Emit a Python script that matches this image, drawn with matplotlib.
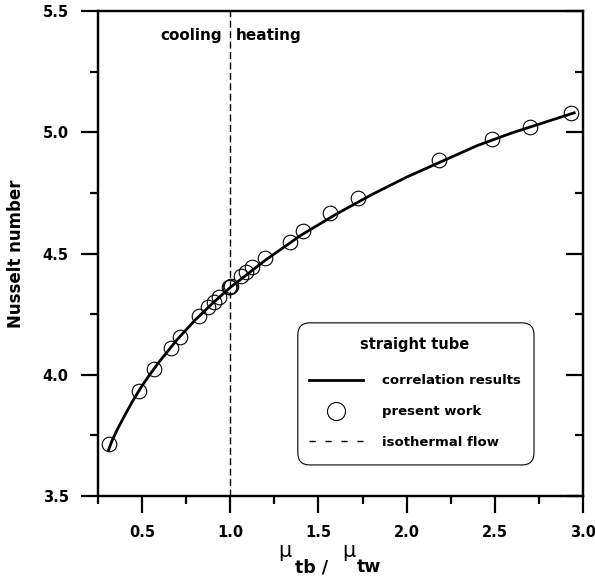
import numpy as np
import matplotlib
matplotlib.use('Agg')
import matplotlib.pyplot as plt
from matplotlib.lines import Line2D
from matplotlib.patches import FancyBboxPatch

plt.rcParams['font.family'] = ['DejaVu Sans']
plt.rcParams['font.weight'] = 'bold'

# correlation curve
curve_x = [0.31, 0.33, 0.36, 0.4, 0.45, 0.5, 0.55, 0.6, 0.7, 0.8, 0.9, 1.0,
           1.2, 1.4, 1.6, 1.8, 2.0, 2.2, 2.4, 2.6, 2.8, 2.95]
curve_nu = [3.69, 3.729, 3.775, 3.83, 3.896, 3.955, 4.007, 4.056, 4.146,
            4.225, 4.295, 4.36, 4.473, 4.575, 4.662, 4.742, 4.815, 4.88,
            4.945, 4.998, 5.045, 5.08]

# present work points
work_x = [0.31, 0.484, 0.569, 0.665, 0.715, 0.824, 0.875, 0.909, 0.937,
          0.995, 1.0, 1.003, 1.06, 1.092, 1.126, 1.196, 1.338, 1.413,
          1.564, 1.725, 2.182, 2.484, 2.702, 2.934]
work_nu = [3.714, 3.934, 4.024, 4.112, 4.154, 4.242, 4.281, 4.301, 4.322,
           4.36, 4.363, 4.366, 4.407, 4.425, 4.446, 4.48, 4.549, 4.594,
           4.666, 4.729, 4.884, 4.971, 5.023, 5.078]

x_ticks = [0.5, 1.0, 1.5, 2.0, 2.5, 3.0]
y_ticks = [3.5, 4.0, 4.5, 5.0, 5.5]

fig = plt.figure(figsize=(5.95, 5.76), dpi=100)
ax = fig.add_axes([98 / 595, 1 - 496 / 576, 485 / 595, 485 / 576])

ax.plot(curve_x, curve_nu, color='black', lw=2.0)
ax.plot(work_x, work_nu, 'o', mfc='none', mec='black', ms=10.5, mew=0.8)
ax.axvline(1.0, color='black', lw=1.0, dashes=(5, 2.5))

ax.set_xlim(0.25, 3.0)
ax.set_ylim(3.5, 5.5)
ax.set_xticks(x_ticks)
ax.set_yticks(y_ticks)
ax.set_xticks(np.arange(0.25, 3.01, 0.25), minor=True)
ax.set_yticks(np.arange(3.5, 5.51, 0.25), minor=True)
ax.set_xticklabels(['%.1f' % v for v in x_ticks])
ax.set_yticklabels(['%.1f' % v for v in y_ticks])

for s in ax.spines.values():
    s.set_linewidth(1.6)
ax.tick_params(which='major', direction='out', length=12, width=1.6,
               labelsize=10.5, top=False, right=False, pad=9)
ax.tick_params(which='minor', direction='out', length=6, width=1.6,
               top=False, right=False)
for lab in ax.get_xticklabels() + ax.get_yticklabels():
    lab.set_fontweight('bold')

# inward ticks on the right side
ax2 = ax.twinx()
ax2.set_ylim(ax.get_ylim())
ax2.set_yticks(y_ticks)
ax2.set_yticks(np.arange(3.5, 5.51, 0.25), minor=True)
ax2.tick_params(which='major', direction='in', length=12, width=1.6,
                labelright=False)
ax2.tick_params(which='minor', direction='in', length=6, width=1.6)
for s in ax2.spines.values():
    s.set_linewidth(1.6)

ax.set_ylabel('Nusselt number', fontsize=12, fontweight='bold', labelpad=13)

# x label: mu_tb / mu_tw
fig.text(278 / 595, 1 - 557 / 576, 'μ', fontsize=15, fontweight='normal',
         ha='left', va='baseline')
fig.text(295 / 595, 1 - 572 / 576, 'tb /', fontsize=12.5, fontweight='bold',
         ha='left', va='baseline')
fig.text(342 / 595, 1 - 557 / 576, 'μ', fontsize=15, fontweight='normal',
         ha='left', va='baseline')
fig.text(357 / 595, 1 - 572 / 576, 'tw', fontsize=12.5, fontweight='bold',
         ha='left', va='baseline')

ax.text(0.955, 5.397, 'cooling', fontsize=11, fontweight='bold',
        ha='right', va='center')
ax.text(1.03, 5.397, 'heating', fontsize=11, fontweight='bold',
        ha='left', va='center')

# legend box
box = FancyBboxPatch((0.412, 0.064), 0.487, 0.293, transform=ax.transAxes,
                     boxstyle='round,pad=0,rounding_size=0.025',
                     fc='white', ec='black', lw=0.8, zorder=5)
ax.add_patch(box)
handles = [Line2D([], [], color='black', lw=2.0),
           Line2D([], [], ls='none', marker='o', mfc='none', mec='black',
                  ms=13, mew=0.8),
           Line2D([], [], color='black', lw=1.0, dashes=(4.5, 7))]
labels = ['correlation results', 'present work', 'isothermal flow']
leg = ax.legend(handles, labels, title='straight tube', loc='upper left',
                bbox_to_anchor=(0.411, 0.352), frameon=False,
                handlelength=4.1, handletextpad=1.4, labelspacing=1.35,
                prop={'weight': 'bold', 'size': 9.5})
leg.get_title().set_fontweight('bold')
leg.get_title().set_fontsize(10.5)
leg._legend_box.sep = 16  # a bit more room under the title
leg.set_zorder(6)

fig.savefig('out.png', dpi=100)
